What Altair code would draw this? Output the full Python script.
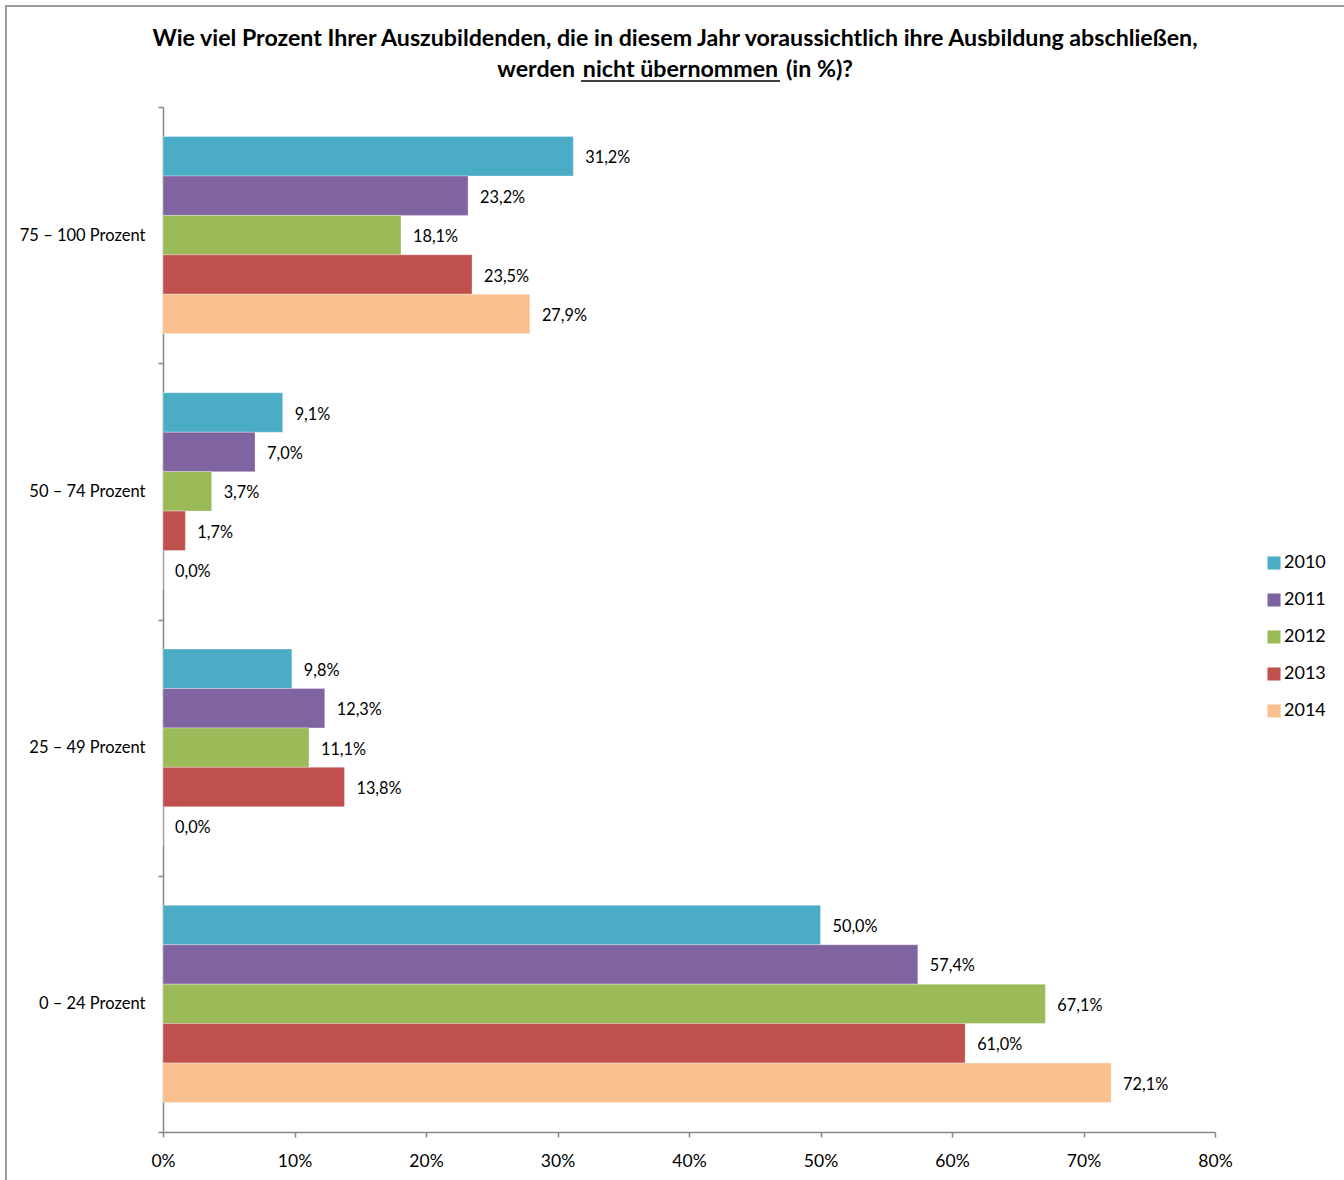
import altair as alt
import pandas as pd

categories = ["75 – 100 Prozent", "50 – 74 Prozent", "25 – 49 Prozent", "0 – 24 Prozent"]
years = ["2010", "2011", "2012", "2013", "2014"]
colors = ["#4BACC6", "#8064A2", "#9BBB59", "#C0504D", "#FAC090"]
values = {
    "75 – 100 Prozent": [31.2, 23.2, 18.1, 23.5, 27.9],
    "50 – 74 Prozent": [9.1, 7.0, 3.7, 1.7, 0.0],
    "25 – 49 Prozent": [9.8, 12.3, 11.1, 13.8, 0.0],
    "0 – 24 Prozent": [50.0, 57.4, 67.1, 61.0, 72.1],
}
x_ticks = [0, 10, 20, 30, 40, 50, 60, 70, 80]
title_line1 = "Wie viel Prozent Ihrer Auszubildenden, die in diesem Jahr voraussichtlich ihre Ausbildung abschließen,"
title_line2 = ["werden", "nicht übernommen", "(in %)?"]

rows = []
for c in categories:
    for y, v in zip(years, values[c]):
        rows.append({"cat": c, "year": y, "value": v,
                     "label": f"{v:.1f}%".replace(".", ",")})
df = pd.DataFrame(rows)

FONT = "Lato"
W, H = 1052, 1025
TFS = 23.2

y_enc = alt.Y("cat:N", sort=categories, title=None,
              scale=alt.Scale(paddingInner=0, paddingOuter=0),
              axis=alt.Axis(tickBand="extent", labelFontSize=16.5, labelFont=FONT,
                            labelColor="#000000", domainColor="#868686",
                            tickColor="#868686", tickSize=5, labelPadding=13,
                            domainWidth=1.5, tickWidth=1.5))
yoff_enc = alt.YOffset("year:N", sort=years,
                       scale=alt.Scale(paddingInner=0, paddingOuter=0.75))
x_enc = alt.X("value:Q", title=None,
              scale=alt.Scale(domain=[0, 80], nice=False),
              axis=alt.Axis(values=x_ticks, labelExpr="datum.value + '%'",
                            grid=False, labelFontSize=17.5, labelFont=FONT,
                            labelFlush=False,
                            labelColor="#000000", domainColor="#868686",
                            tickColor="#868686", tickSize=5, labelPadding=15,
                            domainWidth=1.5, tickWidth=1.5))
color_enc = alt.Color("year:N", sort=years,
                      scale=alt.Scale(domain=years, range=colors),
                      legend=alt.Legend(title=None, orient="none",
                                        legendX=1102, legendY=447,
                                        symbolType="square", symbolSize=170,
                                        symbolStrokeWidth=0,
                                        labelFontSize=18, labelFont=FONT,
                                        labelColor="#000000",
                                        rowPadding=19, labelOffset=1))

bars = alt.Chart(df).mark_bar(stroke="#ffffff", strokeWidth=0.5, strokeOpacity=0.6).encode(
    x=x_enc, y=y_enc, yOffset=yoff_enc, color=color_enc)

labels = alt.Chart(df).mark_text(align="left", baseline="middle", dx=12, dy=2,
                                 fontSize=16.3, font=FONT, color="#000000").encode(
    x="value:Q", y=alt.Y("cat:N", sort=categories), yOffset=yoff_enc, text="label:N")

one = alt.Data(values=[{}])
t1 = alt.Chart(one).mark_text(text=title_line1, font=FONT, fontWeight="bold",
                              fontSize=TFS, align="center", baseline="alphabetic",
                              color="#000000").encode(x=alt.value(512), y=alt.value(-61))
t2a = alt.Chart(one).mark_text(text=title_line2[0], font=FONT, fontWeight="bold",
                               fontSize=TFS, align="right", baseline="alphabetic",
                               color="#000000").encode(x=alt.value(412), y=alt.value(-30))
t2b = alt.Chart(one).mark_text(text=title_line2[1], font=FONT, fontWeight="bold",
                               fontSize=TFS, align="center", baseline="alphabetic",
                               color="#000000").encode(x=alt.value(517.5), y=alt.value(-30))
t2c = alt.Chart(one).mark_text(text=title_line2[2], font=FONT, fontWeight="bold",
                               fontSize=TFS, align="left", baseline="alphabetic",
                               color="#000000").encode(x=alt.value(623), y=alt.value(-30))
underline = alt.Chart(one).mark_rule(color="#000000", strokeWidth=1.5).encode(
    x=alt.value(418), x2=alt.value(617), y=alt.value(-26))

frame_left = alt.Chart(one).mark_rule(color="#9a9a9a", strokeWidth=2).encode(
    x=alt.value(-157), y=alt.value(-101), y2=alt.value(1100))
frame_top = alt.Chart(one).mark_rule(color="#9a9a9a", strokeWidth=2).encode(
    x=alt.value(-158), x2=alt.value(1200), y=alt.value(-101))

chart = alt.layer(bars, labels, t1, t2a, t2b, t2c, underline, frame_left, frame_top).properties(
    width=W, height=H,
    autosize=alt.AutoSizeParams(type="none"),
    padding={"left": 163, "top": 107, "right": 129, "bottom": 48},
    background="#ffffff",
).configure_view(stroke=None)

chart.save("out.html", embed_options={"renderer": "svg", "actions": False})
